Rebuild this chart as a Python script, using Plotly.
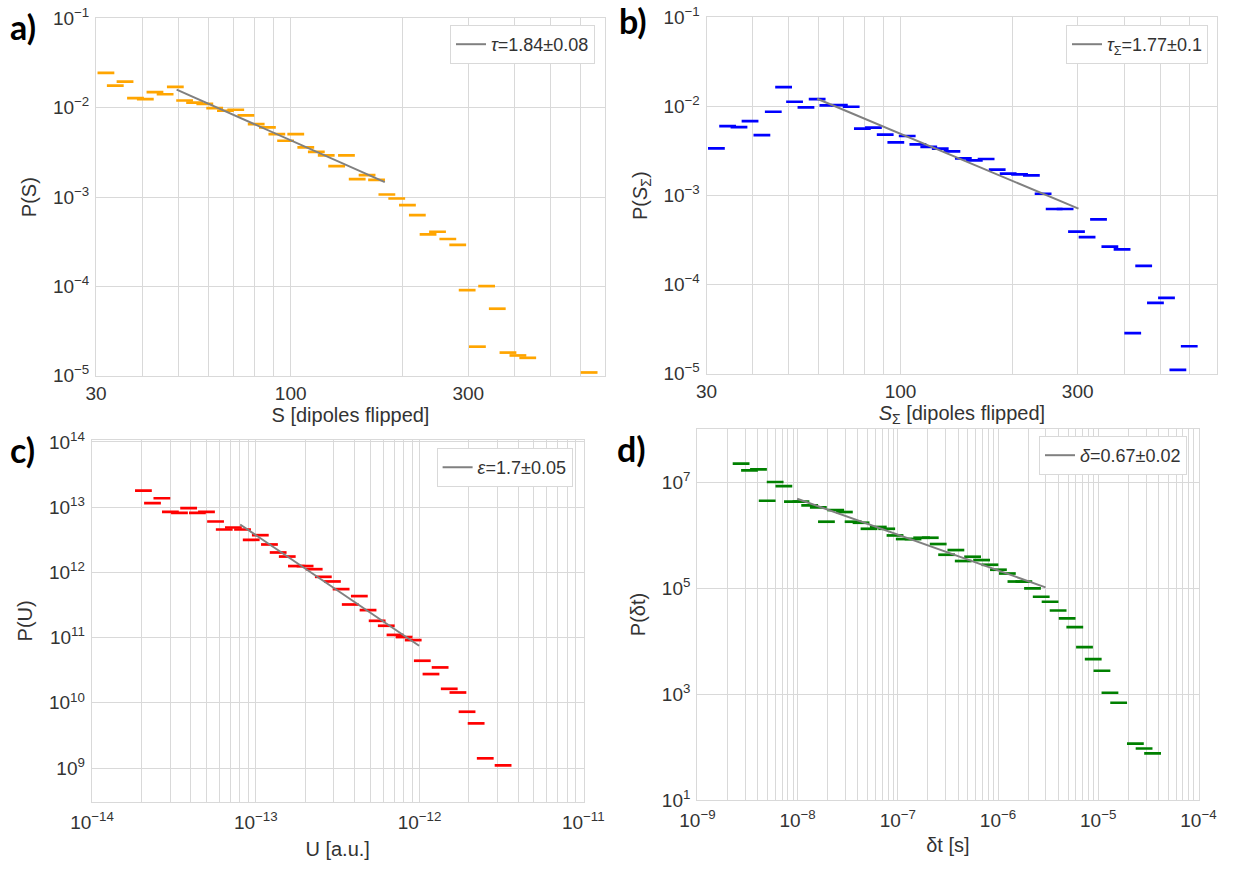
import plotly.graph_objects as go

# ---------------- data ----------------
# a) avalanche size S
a_x = [31.9, 33.8, 35.9, 38.3, 40.7, 43.2, 46.0, 49.0, 51.9, 55.2, 58.8, 62.5, 66.8, 71.2,
       75.8, 80.8, 86.6, 91.8, 96.9, 103.2, 109.8, 117.2, 124.6, 132.9, 141.2, 150.9, 160.4,
       170.1, 181.3, 192.7, 205.9, 218.9, 233.9, 248.0, 264.3, 281.0, 297.9, 317.4, 336.0,
       358.9, 383.4, 407.7, 433.3, 633.3]
a_y = [0.02455, 0.01774, 0.01968, 0.01283, 0.01250, 0.01497, 0.01419, 0.01714, 0.01208,
       0.01145, 0.01109, 0.00991, 0.00927, 0.00951, 0.00822, 0.00658, 0.00604, 0.00508,
       0.00428, 0.00508, 0.00361, 0.00321, 0.00294, 0.00223, 0.00294, 0.00159, 0.00176,
       0.00156, 0.00107, 0.000966, 0.000815, 0.000630, 0.000384, 0.000410, 0.000340,
       0.000292, 0.0000910, 0.0000212, 0.000101, 0.0000564, 0.0000182, 0.0000169,
       0.0000159, 0.0000109]
a_fit_x = [49.4, 179.0]
a_fit_y = [0.0160, 0.00147]
a_label = "<i>τ</i>=1.84±0.08"

# b) summed avalanche size S_Sigma
b_x = [31.9, 34.2, 36.7, 39.3, 42.3, 45.4, 48.4, 51.8, 55.6, 59.6, 63.7, 68.4, 73.6, 78.9,
       84.5, 90.9, 97.1, 104.2, 111.3, 119.1, 127.9, 137.5, 147.6, 158.0, 170.0, 182.1,
       194.9, 209.2, 225.1, 242.1, 259.3, 277.5, 297.8, 318.0, 341.4, 366.3, 395.1, 422.1,
       451.8, 486.0, 520.5, 558.6, 599.4]
b_y = [0.00340, 0.00604, 0.00589, 0.00687, 0.00479, 0.00875, 0.01656, 0.01133, 0.00979,
       0.01214, 0.01031, 0.01040, 0.00995, 0.00564, 0.00579, 0.00483, 0.00396, 0.00467,
       0.00377, 0.00352, 0.00337, 0.00314, 0.00262, 0.00249, 0.00258, 0.00196, 0.00177,
       0.00173, 0.00169, 0.00105, 0.000708, 0.000708, 0.000394, 0.000343, 0.000543,
       0.000268, 0.000250, 0.0000286, 0.000163, 0.0000625, 0.0000711, 0.0000111, 0.0000204]
b_fit_x = [59.6, 301.5]
b_fit_y = [0.01225, 0.000714]
b_label = "<i>τ</i><sub>Σ</sub>=1.77±0.1"

# c) energy U
c_x = [2.06e-14, 2.34e-14, 2.67e-14, 3.01e-14, 3.42e-14, 3.89e-14, 4.40e-14, 5.00e-14,
       5.68e-14, 6.42e-14, 7.30e-14, 8.30e-14, 9.38e-14, 1.066e-13, 1.212e-13, 1.370e-13,
       1.557e-13, 1.770e-13, 2.001e-13, 2.274e-13, 2.585e-13, 2.938e-13, 3.320e-13,
       3.775e-13, 4.290e-13, 4.849e-13, 5.511e-13, 6.265e-13, 7.083e-13, 8.049e-13,
       9.150e-13, 1.040e-12, 1.175e-12, 1.336e-12, 1.519e-12, 1.716e-12, 1.951e-12,
       2.217e-12, 2.520e-12, 3.238e-12]
c_y = [1.80e13, 1.15e13, 1.37e13, 8.49e12, 8.19e12, 9.66e12, 8.19e12, 8.49e12, 6.03e12,
       4.55e12, 4.88e12, 4.55e12, 3.16e12, 3.72e12, 2.68e12, 2.02e12, 1.75e12, 1.25e12,
       1.25e12, 1.12e12, 8.55e11, 7.26e11, 5.54e11, 3.22e11, 4.33e11, 2.64e11, 1.81e11,
       1.52e11, 1.10e11, 1.02e11, 9.16e10, 4.42e10, 2.76e10, 3.49e10, 1.64e10, 1.44e10,
       7.30e9, 4.84e9, 1.41e9, 1.10e9]
c_fit_x = [8.03e-14, 9.94e-13]
c_fit_y = [5.42e12, 7.50e10]
c_label = "<i>ε</i>=1.7±0.05"

# d) waiting time dt
d_x = [2.73e-9, 3.31e-9, 4.07e-9, 4.97e-9, 5.97e-9, 7.29e-9, 8.88e-9, 1.08e-8, 1.32e-8,
       1.61e-8, 1.94e-8, 2.40e-8, 2.93e-8, 3.58e-8, 4.30e-8, 5.16e-8, 6.39e-8, 7.75e-8,
       9.38e-8, 1.16e-7, 1.42e-7, 1.73e-7, 2.11e-7, 2.53e-7, 3.07e-7, 3.80e-7, 4.50e-7,
       5.58e-7, 6.86e-7, 8.31e-7, 1.01e-6, 1.24e-6, 1.51e-6, 1.81e-6, 2.21e-6, 2.70e-6,
       3.31e-6, 3.98e-6, 4.90e-6, 5.84e-6, 7.30e-6, 8.92e-6, 1.09e-5, 1.31e-5, 1.60e-5,
       2.35e-5, 2.87e-5, 3.49e-5]
d_y = [2.26e7, 1.69e7, 1.76e7, 4.51e6, 1.02e7, 8.55e6, 4.32e6, 4.32e6, 3.67e6, 3.37e6,
       1.81e6, 3.01e6, 2.76e6, 1.81e6, 1.73e6, 1.33e6, 1.44e6, 1.33e6, 9.96e5, 8.51e5,
       8.51e5, 9.01e5, 9.01e5, 6.85e5, 4.30e5, 5.27e5, 3.27e5, 3.94e5, 3.41e5, 2.78e5,
       2.24e5, 1.90e5, 1.34e5, 1.34e5, 9.91e4, 6.91e4, 5.56e4, 3.80e4, 2.69e4, 1.85e4,
       7.74e3, 4.59e3, 2.76e3, 1.06e3, 685, 116, 93.7, 75.4]
d_fit_x = [9.89e-9, 2.98e-6]
d_fit_y = [4.92e6, 1.04e5]
d_label = "<i>δ</i>=0.67±0.02"

# tick labels
ab_xticks = [30, 100, 300]
ab_xticktext = ["30", "100", "300"]
ab_xminor = [40, 50, 60, 70, 80, 90, 200, 400, 500, 600]
ab_yticks = [1e-5, 1e-4, 1e-3, 1e-2, 1e-1]
ab_yticktext = ["10<sup>−5</sup>", "10<sup>−4</sup>", "10<sup>−3</sup>", "10<sup>−2</sup>", "10<sup>−1</sup>"]
c_xticks = [1e-14, 1e-13, 1e-12, 1e-11]
c_xticktext = ["10<sup>−14</sup>", "10<sup>−13</sup>", "10<sup>−12</sup>", "10<sup>−11</sup>"]
c_yticks = [1e9, 1e10, 1e11, 1e12, 1e13, 1e14]
c_yticktext = ["10<sup>9</sup>", "10<sup>10</sup>", "10<sup>11</sup>", "10<sup>12</sup>", "10<sup>13</sup>", "10<sup>14</sup>"]
d_xticks = [1e-9, 1e-8, 1e-7, 1e-6, 1e-5, 1e-4]
d_xticktext = ["10<sup>−9</sup>", "10<sup>−8</sup>", "10<sup>−7</sup>", "10<sup>−6</sup>", "10<sup>−5</sup>", "10<sup>−4</sup>"]
d_yticks = [1e1, 1e3, 1e5, 1e7]
d_yticktext = ["10<sup>1</sup>", "10<sup>3</sup>", "10<sup>5</sup>", "10<sup>7</sup>"]

c_xminor = [k * 10.0 ** e for e in (-14, -13, -12) for k in range(2, 10)]
d_xminor = [k * 10.0 ** e for e in (-9, -8, -7, -6, -5) for k in range(2, 10)]

# ---------------- styling ----------------
W, H = 1235, 869
FONT = "Liberation Sans, Arial, sans-serif"
TXT = "#333333"
GRID = "#d9d9d9"
FIT = "#808080"

fig = go.Figure()

panels = [
    (a_x, a_y, a_fit_x, a_fit_y, a_label, "#FFA500", "legend", ""),
    (b_x, b_y, b_fit_x, b_fit_y, b_label, "#0000FF", "legend2", "2"),
    (c_x, c_y, c_fit_x, c_fit_y, c_label, "#FF0000", "legend3", "3"),
    (d_x, d_y, d_fit_x, d_fit_y, d_label, "#008000", "legend4", "4"),
]

for xs, ys, fx, fy, lab, col, leg, sfx in panels:
    fig.add_trace(go.Scatter(
        x=xs, y=ys, mode="markers", showlegend=False,
        marker=dict(symbol="line-ew", size=12, line=dict(color=col, width=2.7)),
        xaxis="x" + sfx, yaxis="y" + sfx))
    fig.add_trace(go.Scatter(
        x=fx, y=fy, mode="lines", name=lab, legend=leg,
        line=dict(color=FIT, width=2),
        xaxis="x" + sfx, yaxis="y" + sfx))


def px_x(v):
    return v / W


def px_y(v):
    return 1 - v / H


def axis(domain, rng, tickvals, ticktext, title, minor_vals=None, anchor=None, standoff=8, label_off=3):
    d = dict(
        type="log", domain=domain, range=rng, anchor=anchor,
        tickmode="array", tickvals=tickvals, ticktext=ticktext,
        ticks="", showline=True, linecolor=GRID, linewidth=1, mirror=True,
        showgrid=True, gridcolor=GRID, gridwidth=1, zeroline=False,
        tickfont=dict(family=FONT, size=19, color=TXT),
        title=dict(text=title, font=dict(family=FONT, size=20, color=TXT), standoff=standoff),
        automargin=False,
        ticklabelstandoff=label_off,
    )
    if minor_vals is not None:
        d["minor"] = dict(tickmode="array", tickvals=minor_vals, showgrid=True,
                          gridcolor=GRID, gridwidth=1, ticks="")
    return d


# domains (pixel based)
dom = {
    "a": ([px_x(96), px_x(605)], [px_y(376), px_y(18.3)]),
    "b": ([px_x(706.5), px_x(1217.3)], [px_y(374), px_y(17.3)]),
    "c": ([px_x(91.7), px_x(583.6)], [px_y(801.7), px_y(440)]),
    "d": ([px_x(697.2), px_x(1198.6)], [px_y(800), px_y(429)]),
}

fig.update_layout(
    xaxis=axis(dom["a"][0], [1.47712, 2.8443], ab_xticks, ab_xticktext, "S [dipoles flipped]", ab_xminor, "y", 0, 0),
    yaxis=axis(dom["a"][1], [-5.002, -0.998], ab_yticks, ab_yticktext, "P(S)", None, "x", 10, 2),
    xaxis2=axis(dom["b"][0], [1.47712, 2.8533], ab_xticks, ab_xticktext, "<i>S</i><sub>Σ</sub> [dipoles flipped]", ab_xminor, "y2", 0, 0),
    yaxis2=axis(dom["b"][1], [-5.002, -0.998], ab_yticks, ab_yticktext, "P(<i>S</i><sub>Σ</sub>)", None, "x2", 10, 2),
    xaxis3=axis(dom["c"][0], [-14.002, -10.998], c_xticks, c_xticktext, "U [a.u.]", c_xminor, "y3", 10, 3),
    yaxis3=axis(dom["c"][1], [8.484, 14.03], c_yticks, c_yticktext, "P(U)", None, "x3", 10, 2),
    xaxis4=axis(dom["d"][0], [-9.002, -3.998], d_xticks, d_xticktext, "δt [s]", d_xminor, "y4", 8, 3),
    yaxis4=axis(dom["d"][1], [0.998, 8.01], d_yticks, d_yticktext, "P(δt)", None, "x4", 10, 2),
)

legend_common = dict(xanchor="right", yanchor="top", bgcolor="white", bordercolor=GRID,
                     borderwidth=1, font=dict(family=FONT, size=18, color=TXT))
fig.update_layout(
    legend=dict(x=px_x(595), y=px_y(25), **legend_common),
    legend2=dict(x=px_x(1208), y=px_y(25), **legend_common),
    legend3=dict(x=px_x(572.6), y=px_y(448), **legend_common),
    legend4=dict(x=px_x(1187), y=px_y(436), **legend_common),
)

# panel letters
for txt, xp, yp in [("a)", 8, 26), ("b)", 617, 21), ("c)", 8, 449), ("d)", 615, 448)]:
    fig.add_annotation(text="<b>" + txt + "</b>", xref="paper", yref="paper",
                       x=px_x(xp), y=px_y(yp), xanchor="left", yanchor="middle",
                       showarrow=False, font=dict(family="Lato, sans-serif", size=34, color="black"))

fig.update_layout(
    width=W, height=H, margin=dict(l=0, r=0, t=0, b=0),
    paper_bgcolor="white", plot_bgcolor="white",
    font=dict(family=FONT, color=TXT),
)

fig.write_html("out.html", config={"displayModeBar": False},
               post_script="document.body.style.margin='0';document.body.style.overflow='hidden';")
